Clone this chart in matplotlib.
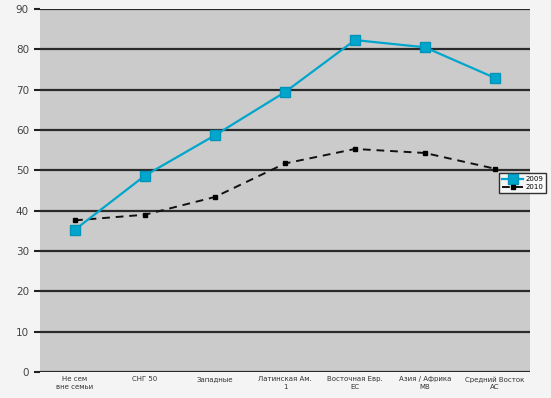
import matplotlib
matplotlib.use('Agg')
import matplotlib.pyplot as plt

categories = ['Не сем\nвне семьи', 'СНГ 50\n', 'Западные\n', 'Латинская Ам.\n1', 'Восточная Евр.\nЕС', 'Азия / Африка\nМВ', 'Средний Восток\nАС']
series_a = [35.3, 48.7, 58.7, 69.4, 82.3, 80.5, 72.9]
series_b = [37.6, 39.0, 43.4, 51.7, 55.3, 54.3, 50.4]
labels = ['2009', '2010']
yticks = list(range(0, 100, 10))

fig = plt.figure(figsize=(5.51, 3.98), dpi=100, facecolor='#f4f4f4')
ax = fig.add_axes([40 / 551, 1 - 372 / 398, 490 / 551, 363 / 398])
ax.set_facecolor('#cbcbcb')

x = list(range(len(categories)))
ax.plot(x, series_a, color='#00a6cc', lw=1.6, marker='s', ms=7,
        mfc='#00a6cc', mec='#0094bb', label=labels[0], zorder=4)
ax.plot(x, series_b, color='#111111', lw=1.4, ls=(0, (4, 3)), marker='s', ms=3.5,
        mfc='black', mec='black', label=labels[1], zorder=3)

ax.set_xlim(-0.5, len(categories) - 0.5)
ax.set_ylim(0, 90)
ax.set_yticks(yticks)
ax.set_yticklabels([str(v) for v in yticks], fontsize=7.5, color='#444444')
ax.set_xticks(x)
ax.set_xticklabels(categories, fontsize=5, color='#333333', linespacing=1.3)
ax.tick_params(axis='x', length=0, pad=3)
ax.tick_params(axis='y', length=4, width=1.5, color='#222222', pad=4)
ax.grid(axis='y', color='#2a2a2a', lw=1.6)
ax.set_axisbelow(True)
for side in ['top', 'right', 'left', 'bottom']:
    ax.spines[side].set_visible(False)

leg = fig.legend(loc='upper left', bbox_to_anchor=(498 / 551, 1 - 172 / 398),
                 fontsize=5, frameon=True, fancybox=False, borderpad=0.4,
                 handlelength=3, handletextpad=0.4, borderaxespad=0.2,
                 labelspacing=0.3)
leg.get_frame().set_edgecolor('black')
leg.get_frame().set_linewidth(1.0)
leg.get_frame().set_facecolor('white')

fig.savefig('out.png', dpi=100, facecolor=fig.get_facecolor())
